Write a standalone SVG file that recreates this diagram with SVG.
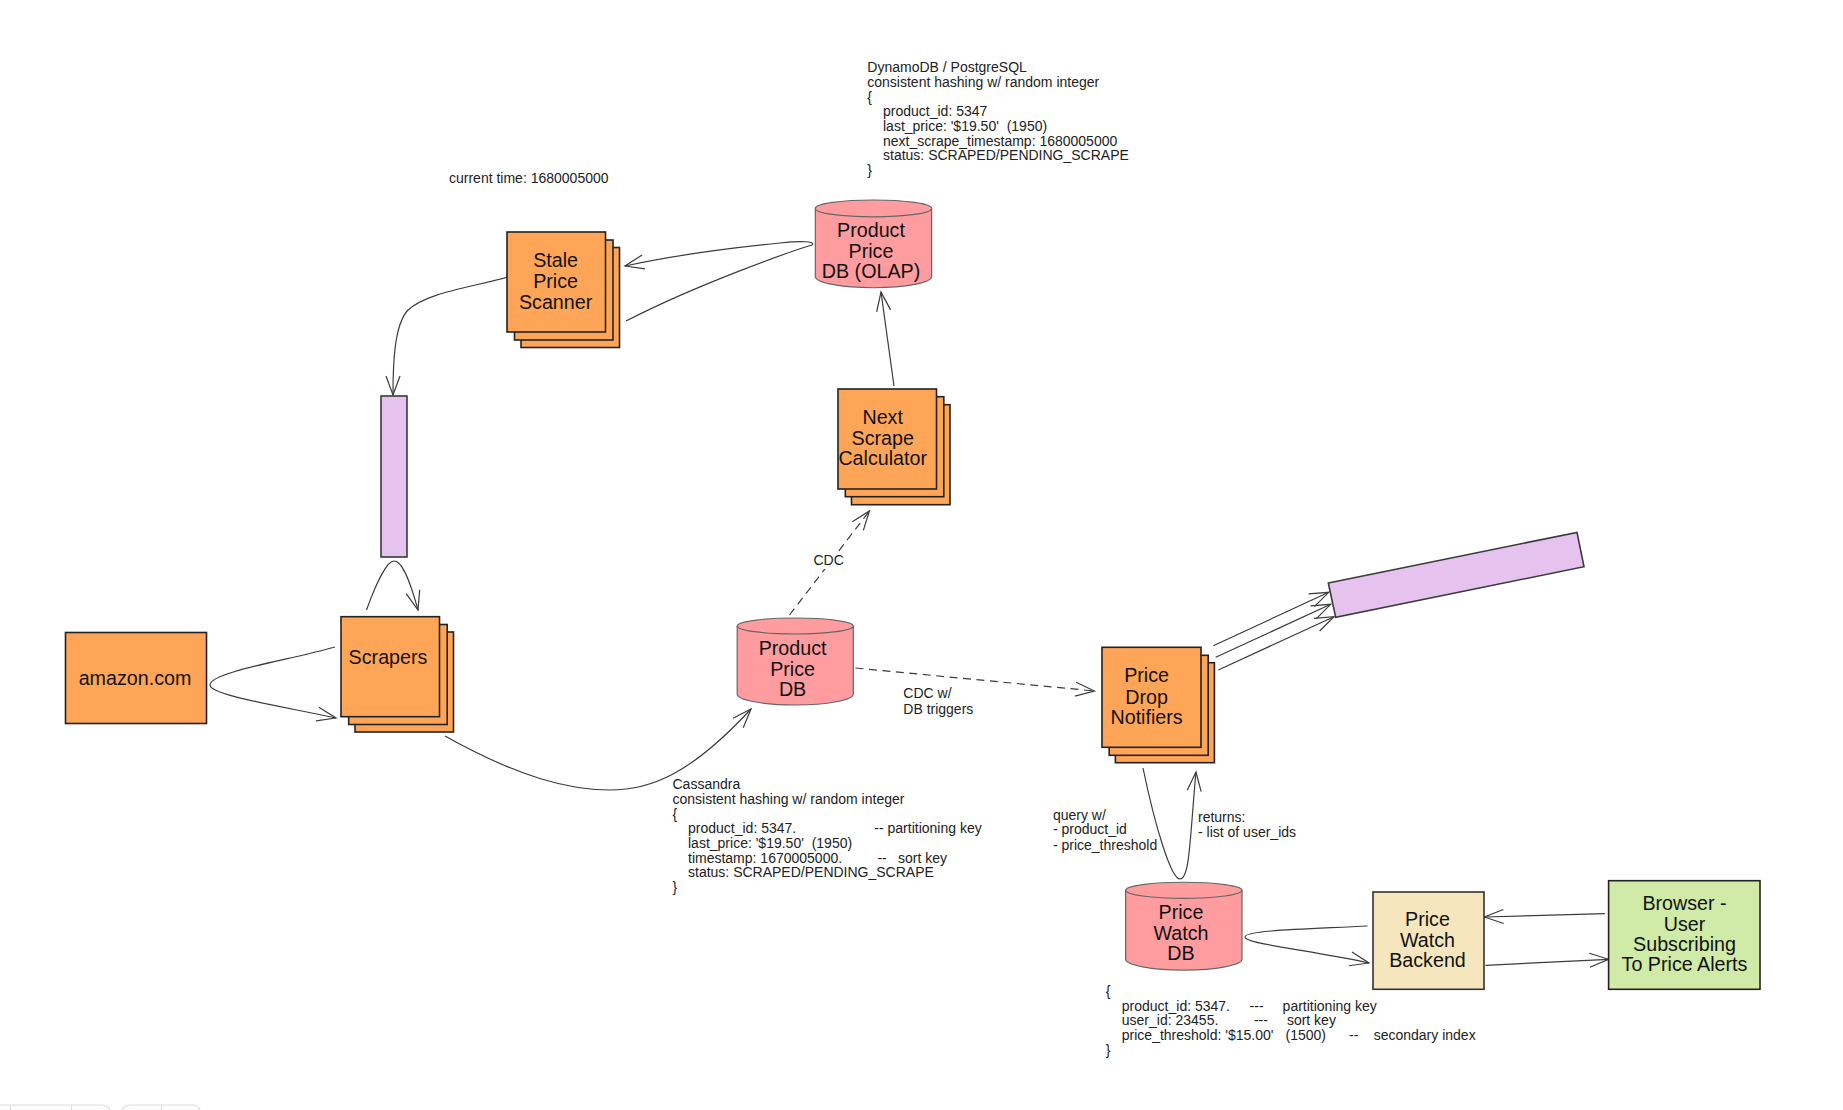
<svg xmlns="http://www.w3.org/2000/svg" width="1843" height="1110" viewBox="0 0 1843 1110">
<style>
text{font-family:"Liberation Sans",Arial,sans-serif;fill:#000;white-space:pre}
.n{font-size:19.7px;text-anchor:middle;fill:#111}
.s{font-size:14px;fill:#222}
.o{fill:#FFA557;stroke:#222;stroke-width:1.6}
.db{fill:#FF9C9F;stroke:#666;stroke-width:1.2}
.q{fill:#E6C3EE;stroke:#3a3a3a;stroke-width:1.6}
.c{fill:none;stroke:#3c3c3c;stroke-width:1.2;marker-end:url(#h)}
.d{stroke-dasharray:8 5.5}
.t{fill:none;stroke:#dcdcdc;stroke-width:1.2}
</style>
<defs>
<marker id="h" markerUnits="userSpaceOnUse" markerWidth="26" markerHeight="20" refX="22" refY="10" orient="auto">
<path d="M3,3 L22,10 L3,17" fill="none" stroke="#3c3c3c" stroke-width="1.2"/>
</marker>
</defs>
<rect width="1843" height="1110" fill="#fff"/>

<g id="connectors">
<path class="c" d="M626,321 C700,283 795,250 812,245 C816,241 800,241 780,243 C740,247 680,254 625,266"/>
<path class="c" d="M511,276 C470,288 428,292 408,310 C394,325 393,365 393,395"/>
<path class="c" d="M335,647 C290,660 210,672 210,685 C210,695 280,706 336,718"/>
<path class="c" d="M366.5,610 C378,578 388,561 394,561 C400,561 407,570 418,610"/>
<path class="c" d="M445,736 C520,778 570,790 610,790 C650,790 690,775 751,709"/>
<path class="c" d="M894,386 L881,292"/>
<path class="c d" d="M789.5,615 L869.4,511"/>
<path class="c d" d="M855.5,668 L1094.4,691"/>
<path class="c" d="M1213.3,645.7 L1328.7,592.3"/>
<path class="c" d="M1215.7,657.3 L1330.7,604.3"/>
<path class="c" d="M1218.3,670 L1334,616.7"/>
<path class="c" d="M1143,768 C1155,826 1171,879 1180,879 C1190,879 1190,835 1196,772"/>
<path class="c" d="M1367.5,926 C1310,929 1245,930 1245,937 C1245,944 1310,950 1369,963"/>
<path class="c" d="M1604.8,913.7 L1484.5,917"/>
<path class="c" d="M1485.5,965.3 L1608.6,959.3"/>
</g>

<g id="amazon">
<rect class="o" x="65.5" y="632.5" width="141" height="91"/>
<text class="n" x="135" y="685">amazon.com</text>
</g>

<g id="scrapers">
<rect class="o" x="355" y="632" width="98.5" height="100"/>
<rect class="o" x="348.7" y="624.5" width="98.5" height="100"/>
<rect class="o" x="341" y="616.7" width="98.5" height="100"/>
<text class="n" x="388" y="664">Scrapers</text>
</g>

<g id="stale-price-scanner">
<rect class="o" x="521" y="247.5" width="98.5" height="100"/>
<rect class="o" x="514.5" y="240" width="98.5" height="100"/>
<rect class="o" x="507" y="232" width="98.5" height="100"/>
<text class="n" x="555.6"><tspan x="555.6" y="267">Stale</tspan><tspan x="555.6" y="288">Price</tspan><tspan x="555.6" y="308.7">Scanner</tspan></text>
</g>

<g id="next-scrape-calculator">
<rect class="o" x="851.5" y="404.7" width="98.5" height="100"/>
<rect class="o" x="845.3" y="396.7" width="98.5" height="100"/>
<rect class="o" x="838" y="389" width="98.5" height="100"/>
<text class="n" x="882.7"><tspan x="882.7" y="424">Next</tspan><tspan x="882.7" y="445">Scrape</tspan><tspan x="882.7" y="465.3">Calculator</tspan></text>
</g>

<g id="price-drop-notifiers">
<rect class="o" x="1115.4" y="662.7" width="99" height="100"/>
<rect class="o" x="1109.2" y="655.3" width="99" height="100"/>
<rect class="o" x="1102" y="647.3" width="99" height="100"/>
<text class="n" x="1146.6"><tspan x="1146.6" y="682.3">Price</tspan><tspan x="1146.6" y="704">Drop</tspan><tspan x="1146.6" y="723.7">Notifiers</tspan></text>
</g>

<g id="olap-db">
<path class="db" d="M815.3,208.4 A58,8.4 0 0 1 931.6,208.4 V276.5 A58,11.2 0 0 1 815.3,276.5 Z"/>
<path class="db" style="fill:none" d="M815.3,208.4 A58,8.4 0 0 0 931.6,208.4"/>
<text class="n" x="871"><tspan x="871" y="237.3">Product</tspan><tspan x="871" y="258.3">Price</tspan><tspan x="871" y="278.3">DB (OLAP)</tspan></text>
</g>

<g id="product-price-db">
<path class="db" d="M737.2,626 A58,8 0 0 1 853.3,626 V694 A58,11 0 0 1 737.2,694 Z"/>
<path class="db" style="fill:none" d="M737.2,626 A58,8 0 0 0 853.3,626"/>
<text class="n" x="792.6"><tspan x="792.6" y="655">Product</tspan><tspan x="792.6" y="676">Price</tspan><tspan x="792.6" y="696">DB</tspan></text>
</g>

<g id="price-watch-db">
<path class="db" d="M1125.6,890.3 A58,8 0 0 1 1242,890.3 V959 A58,11 0 0 1 1125.6,959 Z"/>
<path class="db" style="fill:none" d="M1125.6,890.3 A58,8 0 0 0 1242,890.3"/>
<text class="n" x="1181"><tspan x="1181" y="919">Price</tspan><tspan x="1181" y="940">Watch</tspan><tspan x="1181" y="960">DB</tspan></text>
</g>

<g id="price-watch-backend">
<rect x="1373" y="892" width="111" height="97.3" fill="#F5E6BE" stroke="#333" stroke-width="1.6"/>
<text class="n" x="1427.5"><tspan x="1427.5" y="925.7">Price</tspan><tspan x="1427.5" y="946.7">Watch</tspan><tspan x="1427.5" y="966.8">Backend</tspan></text>
</g>

<g id="browser">
<rect x="1608.6" y="880.7" width="151.4" height="108.6" fill="#CFEBA7" stroke="#222" stroke-width="1.6"/>
<text class="n" x="1684.500"><tspan x="1684.500" y="909.7">Browser -</tspan><tspan x="1684.500" y="930.7">User</tspan><tspan x="1684.500" y="951">Subscribing</tspan><tspan x="1684.500" y="971">To Price Alerts</tspan></text>
</g>

<g id="queue-vertical">
<rect class="q" x="381" y="396" width="26" height="161"/>
</g>

<g id="queue-diagonal">
<polygon class="q" points="1328.3,583 1577,532.4 1584,566.7 1335.7,617.4"/>
</g>

<g id="label-current-time">
<text class="s" x="449" y="183.3">current time: 1680005000</text>
</g>

<g id="note-olap">
<text class="s" x="867.3" y="72.3">DynamoDB / PostgreSQL</text>
<text class="s" x="867.3" y="87.3">consistent hashing w/ random integer</text>
<text class="s" x="867.3" y="102">{</text>
<text class="s" x="883" y="116.4">product_id: 5347</text>
<text class="s" x="883" y="131">last_price: '$19.50'  (1950)</text>
<text class="s" x="883" y="145.8">next_scrape_timestamp: 1680005000</text>
<text class="s" x="883" y="160.3">status: SCRAPED/PENDING_SCRAPE</text>
<text class="s" x="867.3" y="175">}</text>
</g>

<g id="label-cdc">
<rect x="812" y="552" width="34" height="17" fill="#fff"/>
<text class="s" x="813.5" y="565">CDC</text>
</g>

<g id="label-cdc-triggers">
<text class="s" x="903.3" y="698">CDC w/</text>
<text class="s" x="903.3" y="713.5">DB triggers</text>
</g>

<g id="note-cassandra">
<text class="s" x="672.5" y="789">Cassandra</text>
<text class="s" x="672.5" y="804">consistent hashing w/ random integer</text>
<text class="s" x="672.5" y="819">{</text>
<text class="s" x="688" y="833">product_id: 5347.<tspan x="874.3">-- partitioning key</tspan></text>
<text class="s" x="688" y="848">last_price: '$19.50'  (1950)</text>
<text class="s" x="688" y="863">timestamp: 1670005000.<tspan x="877.4">--</tspan><tspan x="898">sort key</tspan></text>
<text class="s" x="688" y="877">status: SCRAPED/PENDING_SCRAPE</text>
<text class="s" x="672.5" y="892">}</text>
</g>

<g id="label-query">
<text class="s" x="1052.9" y="819.500">query w/</text>
<text class="s" x="1052.9" y="834">- product_id</text>
<text class="s" x="1052.9" y="849.500">- price_threshold</text>
</g>

<g id="label-returns">
<text class="s" x="1198" y="822">returns:</text>
<text class="s" x="1198" y="837">- list of user_ids</text>
</g>

<g id="note-price-watch">
<text class="s" x="1105.8" y="995.5">{</text>
<text class="s" x="1121.8" y="1010.5">product_id: 5347.<tspan x="1249.6">---</tspan><tspan x="1282.6">partitioning key</tspan></text>
<text class="s" x="1121.8" y="1025">user_id: 23455.<tspan x="1253.9">---</tspan><tspan x="1286.9">sort key</tspan></text>
<text class="s" x="1121.8" y="1039.5">price_threshold: '$15.00'<tspan x="1285.5">(1500)</tspan><tspan x="1349">--</tspan><tspan x="1373.7">secondary index</tspan></text>
<text class="s" x="1105.8" y="1054.5">}</text>
</g>

<path class="t" d="M0,1105 H100 Q108,1105 110,1110 M10.500,1105 V1110 M71.500,1105 V1110 M122,1110 Q124,1105 132,1105 H192 Q198,1105 200,1110 M161.500,1105 V1110"/>
</svg>
